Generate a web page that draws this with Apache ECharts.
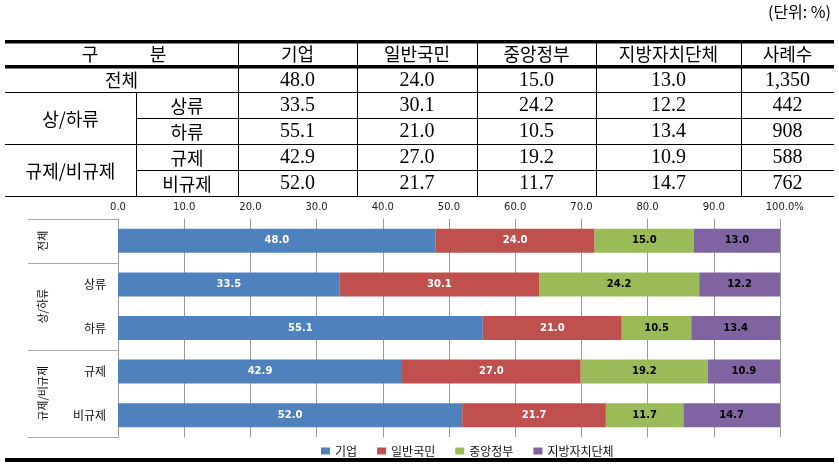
<!DOCTYPE html>
<html><head><meta charset="utf-8">
<script src="https://cdn.jsdelivr.net/npm/echarts@6/dist/echarts.min.js"></script>
<style>html,body{margin:0;padding:0;background:#fff;}#c{width:839px;height:466px;}</style>
</head><body><div id="c"></div>
<script>
// ---- data ----
const groupOfRow = ['전체', '상/하류', '상/하류', '규제/비규제', '규제/비규제'];
const subCategories = ['', '상류', '하류', '규제', '비규제'];
const seriesNames = ['기업', '일반국민', '중앙정부', '지방자치단체'];
const business = [48.0, 33.5, 55.1, 42.9, 52.0];
const citizens = [24.0, 30.1, 21.0, 27.0, 21.7];
const centralGov = [15.0, 24.2, 10.5, 19.2, 11.7];
const localGov = [13.0, 12.2, 13.4, 10.9, 14.7];
const caseCounts = [1350, 442, 908, 588, 762];
const headerGroup = ['구', '분'];
const headerCases = '사례수';
const unitLabel = '(단위: %)';

// ---- styles ----
const colors = ['#4F81BD', '#C0504D', '#9BBB59', '#8064A2'];
const labelColors = ['#fff', '#fff', '#000', '#000'];
const KR = "'Noto Sans CJK KR', sans-serif";
const NUM = "'Liberation Serif', 'Noto Sans CJK KR', serif";
const allSeries = [business, citizens, centralGov, localGov];

const chart = echarts.init(document.getElementById('c'), null, {renderer: 'canvas'});

// ---- table graphics ----
const colX = [5, 238, 357, 477, 596, 741, 834];
const subX = 136;
const rowY = [41, 66.5, 92, 118, 144, 170, 196];
const g = [];
function hline(x1, x2, y) { g.push({type: 'line', silent: true, shape: {x1: x1, y1: y + 0.5, x2: x2, y2: y + 0.5}, style: {stroke: '#000', lineWidth: 1}}); }
function vline(x, y1, y2) { g.push({type: 'line', silent: true, shape: {x1: x + 0.5, y1: y1, x2: x + 0.5, y2: y2}, style: {stroke: '#000', lineWidth: 1}}); }
function txt(t, x, y, size, fam, align) {
  g.push({type: 'text', silent: true, x: x, y: y, style: {text: t, fontSize: size, fontFamily: fam, fill: '#000', align: align || 'center', verticalAlign: 'middle'}});
}
g.push({type: 'rect', silent: true, shape: {x: 5, y: 40, width: 829, height: 3.5}, style: {fill: '#000'}});
g.push({type: 'rect', silent: true, shape: {x: 5, y: 65, width: 829, height: 3.5}, style: {fill: '#000'}});
hline(5, 834, 92); hline(subX, 834, 118); hline(5, 834, 144); hline(subX, 834, 170); hline(5, 834, 196);
for (let i = 1; i < colX.length - 1; i++) vline(colX[i], 43, 196.5);
vline(subX, 92, 196.5);
// header
txt(headerGroup[0], 90, 54, 18, KR);
txt(headerGroup[1], 158, 54, 18, KR);
seriesNames.forEach((n, i) => txt(n, (colX[i + 1] + colX[i + 2]) / 2, 54, 18, KR));
txt(headerCases, (colX[5] + colX[6]) / 2, 54, 18, KR);
// body
for (let r = 0; r < subCategories.length; r++) {
  const yc = (rowY[r + 1] + rowY[r + 2]) / 2 + 1;
  allSeries.forEach((arr, i) => txt(arr[r].toFixed(1), (colX[i + 1] + colX[i + 2]) / 2, yc, 20, NUM));
  txt(caseCounts[r].toLocaleString('en-US'), (colX[5] + colX[6]) / 2, yc, 20, NUM);
  if (subCategories[r]) txt(subCategories[r], (subX + colX[1]) / 2, yc, 18, KR);
}
// group labels in table
(function () {
  let start = 0;
  for (let r = 1; r <= groupOfRow.length; r++) {
    if (r === groupOfRow.length || groupOfRow[r] !== groupOfRow[start]) {
      const y1 = rowY[start + 1], y2 = rowY[r + 1];
      const single = (r - start === 1) && !subCategories[start];
      txt(groupOfRow[start], single ? (colX[0] + colX[1]) / 2 : (colX[0] + subX) / 2, (y1 + y2) / 2 + 1, 18, KR);
      start = r;
    }
  }
})();
txt(unitLabel, 831, 12, 16, KR, 'right');
// bottom thick rule
g.push({type: 'rect', silent: true, shape: {x: 5, y: 458, width: 829, height: 4}, style: {fill: '#000'}});

const option = {
  animation: false,
  backgroundColor: '#fff',
  grid: {left: 118, right: 59, top: 219, height: 218, containLabel: false},
  legend: {
    data: seriesNames, left: 316, top: 440, icon: 'rect', itemWidth: 9, itemHeight: 7, itemGap: 20,
    textStyle: {fontSize: 12, fontFamily: KR, color: '#111'}, selectedMode: false
  },
  xAxis: {
    type: 'value', position: 'top', min: 0, max: 100, interval: 10,
    axisLine: {show: false}, axisTick: {show: false},
    splitLine: {show: true, lineStyle: {color: '#9a9a9a', width: 1}},
    axisLabel: {
      margin: 7, fontSize: 10, fontFamily: 'DejaVu Sans', color: '#222',
      formatter: v => v === 100 ? '{h|%}100.0%' : v.toFixed(1),
      rich: {h: {color: 'rgba(0,0,0,0)', fontSize: 10, fontFamily: 'DejaVu Sans'}}
    }
  },
  yAxis: {
    type: 'category', inverse: true, data: subCategories,
    axisLine: {show: true, lineStyle: {color: '#9a9a9a'}}, axisTick: {show: false},
    axisLabel: {margin: 12, fontSize: 12, fontFamily: KR, color: '#111'}
  },
  series: allSeries.map((arr, i) => ({
    name: seriesNames[i], type: 'bar', stack: 'total', data: arr, barWidth: 24,
    itemStyle: {color: colors[i]}, clip: true,
    label: {show: true, position: 'inside', formatter: p => p.value.toFixed(1), color: labelColors[i],
      fontSize: 10, fontWeight: 'bold', fontFamily: 'DejaVu Sans'},
    emphasis: {disabled: true}
  })),
  graphic: g
};
chart.setOption(option);

// group labels and separators on chart's left axis using axis scale
(function () {
  const centers = subCategories.map((_, i) => chart.convertToPixel({yAxisIndex: 0}, i));
  const step = centers[1] - centers[0];
  const bound = i => (i === 0 ? centers[0] - step / 2 : (i === centers.length ? centers[centers.length - 1] + step / 2 : (centers[i - 1] + centers[i]) / 2));
  const extra = [];
  const gridLeft = 118;
  let start = 0;
  const addLine = y => extra.push({type: 'line', silent: true, shape: {x1: 28, y1: Math.round(y) + 0.5, x2: gridLeft, y2: Math.round(y) + 0.5}, style: {stroke: '#aaa', lineWidth: 1}});
  addLine(bound(0));
  for (let r = 1; r <= groupOfRow.length; r++) {
    if (r === groupOfRow.length || groupOfRow[r] !== groupOfRow[start]) {
      const y1 = bound(start), y2 = bound(r);
      extra.push({type: 'text', silent: true, x: 43, y: (y1 + y2) / 2, rotation: Math.PI / 2,
        style: {text: groupOfRow[start], fontSize: 11, fontFamily: KR, fill: '#111', align: 'center', verticalAlign: 'middle'}});
      addLine(y2);
      start = r;
    }
  }
  chart.setOption({graphic: g.concat(extra)});
})();
</script>
</body></html>
